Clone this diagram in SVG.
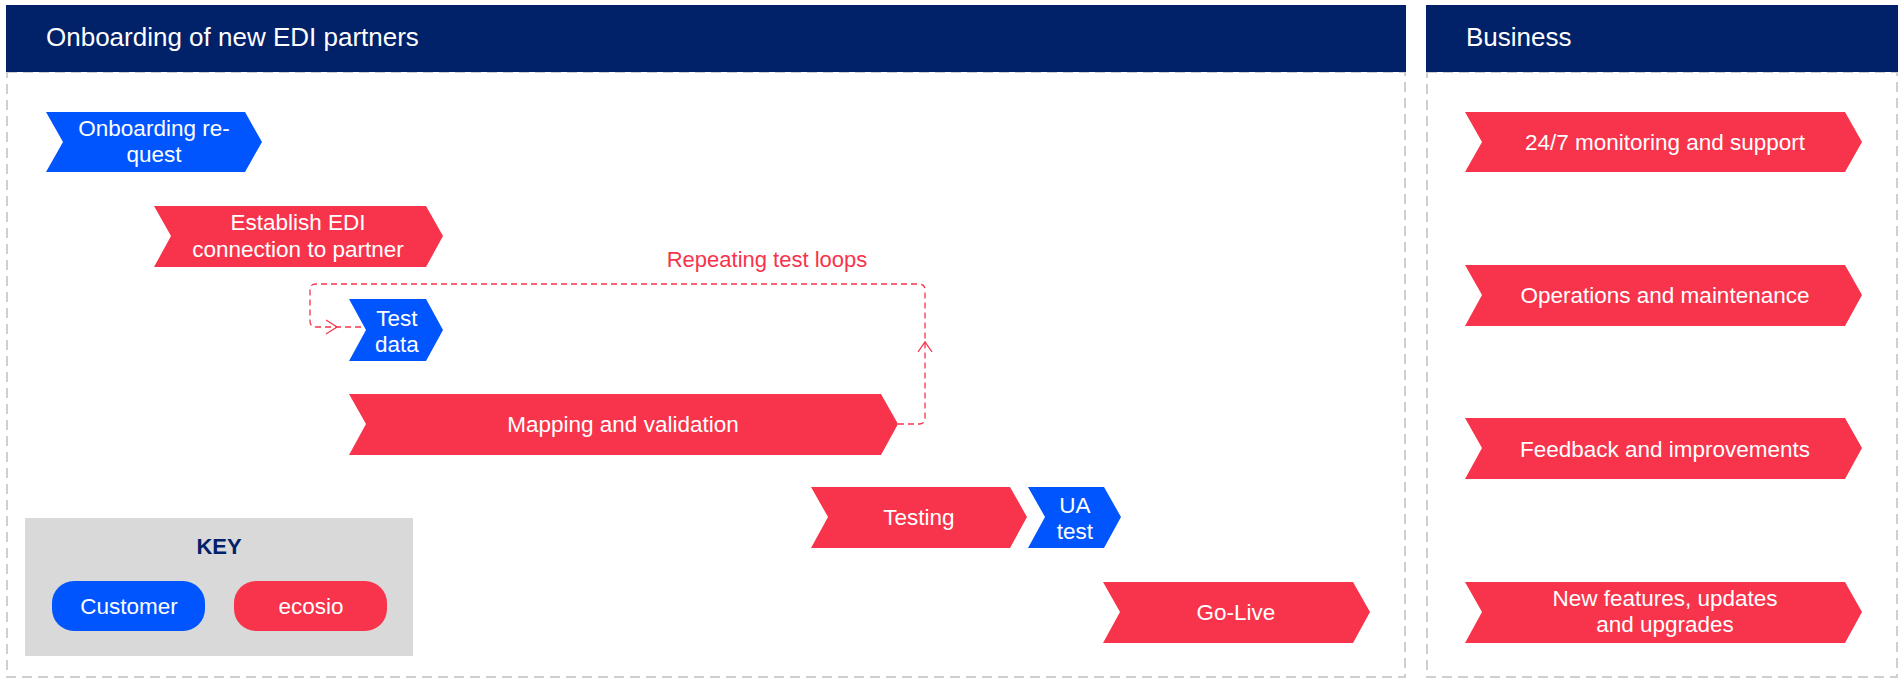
<svg xmlns="http://www.w3.org/2000/svg" width="1901" height="687" viewBox="0 0 1901 687">
<style>
text{font-family:"Liberation Sans",Arial,sans-serif;}
.t{fill:#fff;font-size:22.5px;text-anchor:middle;}
.h{fill:#fff;font-size:26px;}
.b{fill:#0055ff}.r{fill:#f7344b}
.frame{fill:none;stroke:#cfcfcf;stroke-width:2;stroke-dasharray:10 6}
</style>
<rect width="1901" height="687" fill="#fff"/>
<g id="panel-left">
<rect class="frame" x="7" y="72" width="1398" height="605"/>
<rect x="6" y="5" width="1400" height="67" fill="#012169"/>
<text class="h" x="46" y="46">Onboarding of new EDI partners</text>
</g>
<g id="panel-right">
<rect class="frame" x="1427" y="72" width="470" height="605"/>
<rect x="1426" y="5" width="472" height="67" fill="#012169"/>
<text class="h" x="1466" y="46">Business</text>
</g>
<g id="connectors">
<path d="M898 424H919Q925 424 925 418V290Q925 284 919 284H316Q310 284 310 290V321Q310 327 316 327H366" fill="none" stroke="#f7344b" stroke-width="1.3" stroke-dasharray="6 4"/>
<path d="M918 352L925 342L932 352" fill="none" stroke="#f7344b" stroke-width="1.3"/>
<path d="M326 320L337 327L326 334" fill="none" stroke="#f7344b" stroke-width="1.3"/>
<text x="767" y="267" font-size="22" fill="#f7344b" text-anchor="middle">Repeating test loops</text>
</g>
<g id="n1"><path class="b" d="M46 112H245L262 142L245 172H46L63 142Z"/><text class="t" x="154" y="136">Onboarding re-</text><text class="t" x="154" y="162">quest</text></g>
<g id="n2"><path class="r" d="M154 206H426L443 236L426 267H154L171 236Z"/><text class="t" x="298" y="230">Establish EDI</text><text class="t" x="298" y="257">connection to partner</text></g>
<g id="n3"><path class="b" d="M349 299H426L443 330L426 361H349L366 330Z"/><text class="t" x="397" y="326">Test</text><text class="t" x="397" y="352">data</text></g>
<g id="n4"><path class="r" d="M349 394H881L898 424L881 455H349L366 424Z"/><text class="t" x="623" y="432">Mapping and validation</text></g>
<g id="n5"><path class="r" d="M811 487H1010L1027 517L1010 548H811L828 517Z"/><text class="t" x="919" y="525">Testing</text></g>
<g id="n6"><path class="b" d="M1028 487H1104L1121 517L1104 548H1028L1045 517Z"/><text class="t" x="1075" y="513">UA</text><text class="t" x="1075" y="539">test</text></g>
<g id="n7"><path class="r" d="M1103 582H1353L1370 612L1353 643H1103L1120 612Z"/><text class="t" x="1236" y="620">Go-Live</text></g>
<g id="b1"><path class="r" d="M1465 112H1845L1862 142L1845 172H1465L1482 142Z"/><text class="t" x="1665" y="150">24/7 monitoring and support</text></g>
<g id="b2"><path class="r" d="M1465 265H1845L1862 295L1845 326H1465L1482 295Z"/><text class="t" x="1665" y="303">Operations and maintenance</text></g>
<g id="b3"><path class="r" d="M1465 418H1845L1862 448L1845 479H1465L1482 448Z"/><text class="t" x="1665" y="457">Feedback and improvements</text></g>
<g id="b4"><path class="r" d="M1465 582H1845L1862 612L1845 643H1465L1482 612Z"/><text class="t" x="1665" y="606">New features, updates</text><text class="t" x="1665" y="632">and upgrades</text></g>
<g id="key">
<rect x="25" y="518" width="388" height="138" fill="#d9d9d9"/>
<text x="219" y="554" font-size="22" font-weight="bold" fill="#012169" text-anchor="middle">KEY</text>
<rect class="b" x="52" y="581" width="153" height="50" rx="22"/>
<text class="t" x="129" y="614">Customer</text>
<rect class="r" x="234" y="581" width="153" height="50" rx="22"/>
<text class="t" x="311" y="614">ecosio</text>
</g>
</svg>
